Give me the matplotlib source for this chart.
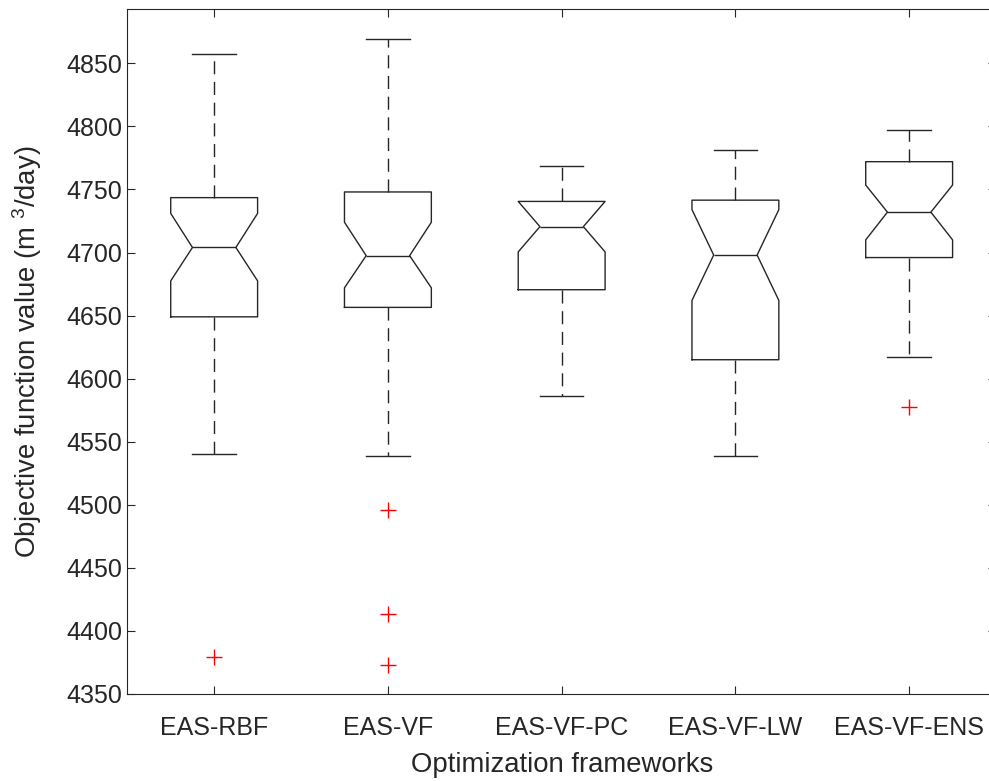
import numpy as np
import matplotlib
matplotlib.use('Agg')
import matplotlib.pyplot as plt

plt.rcParams['font.family'] = ['Liberation Sans', 'DejaVu Sans']
plt.rcParams['mathtext.fontset'] = 'custom'
plt.rcParams['mathtext.rm'] = 'Liberation Sans'
plt.rcParams['mathtext.it'] = 'Liberation Sans'

# Datos (valores de la función objetivo, m3/día)
labels = ['EAS-RBF', 'EAS-VF', 'EAS-VF-PC', 'EAS-VF-LW', 'EAS-VF-ENS']
mediana = [4704, 4697.5, 4720.5, 4698, 4732]
q1 = [4649, 4656.5, 4670.5, 4615, 4696]
q3 = [4743.5, 4748, 4740.5, 4741.5, 4772]
bigote_inf = [4540, 4539, 4586.5, 4538.5, 4617]
bigote_sup = [4857.5, 4869, 4768.5, 4781, 4797.5]
muesca_inf = [4677.5, 4672, 4700.5, 4662, 4710]
muesca_sup = [4731, 4724, 4740.5, 4734, 4753.5]
atipicos = [[4379], [4495.5, 4413.5, 4373], [], [], [4577.5]]

stats = []
for i in range(len(labels)):
    stats.append(dict(label=labels[i], med=mediana[i], q1=q1[i], q3=q3[i],
                      whislo=bigote_inf[i], whishi=bigote_sup[i],
                      cilo=muesca_inf[i], cihi=muesca_sup[i],
                      fliers=np.array(atipicos[i])))

col = '#262626'
fig = plt.figure(figsize=(9.89, 7.81), dpi=100)
ax = fig.add_axes([0.1287, 0.1114, 0.8784, 0.877])

ax.bxp(stats, positions=np.arange(1, 6), widths=0.5, shownotches=True,
       boxprops=dict(color=col, lw=1.0),
       medianprops=dict(color=col, lw=1.0),
       whiskerprops=dict(color=col, lw=1.0, linestyle=(0, (9.4, 5.5))),
       capprops=dict(color=col, lw=1.0),
       flierprops=dict(marker='+', markeredgecolor='red', markersize=12,
                       markeredgewidth=1.0, linestyle='none'))

ax.set_xlim(0.5, 5.5)
ax.set_ylim(4350, 4893)
ax.set_yticks(np.arange(4350, 4851, 50))
ax.tick_params(direction='in', top=True, right=True, length=6,
               labelsize=18, colors=col, width=0.8)
ax.tick_params(axis='x', pad=16)
for s in ax.spines.values():
    s.set_color(col)
    s.set_linewidth(0.8)

ax.set_xlabel('Optimization frameworks', fontsize=19.8, color=col)
ax.set_ylabel('Objective function value (m $^{3}$/day)', fontsize=19.8, color=col)
ax.xaxis.set_label_coords(0.5, -0.114)
ax.yaxis.set_label_coords(-0.1155, 0.5)
ax.xaxis.label.set_va('baseline')
ax.yaxis.label.set_va('center')

fig.savefig('out.png', dpi=100)
